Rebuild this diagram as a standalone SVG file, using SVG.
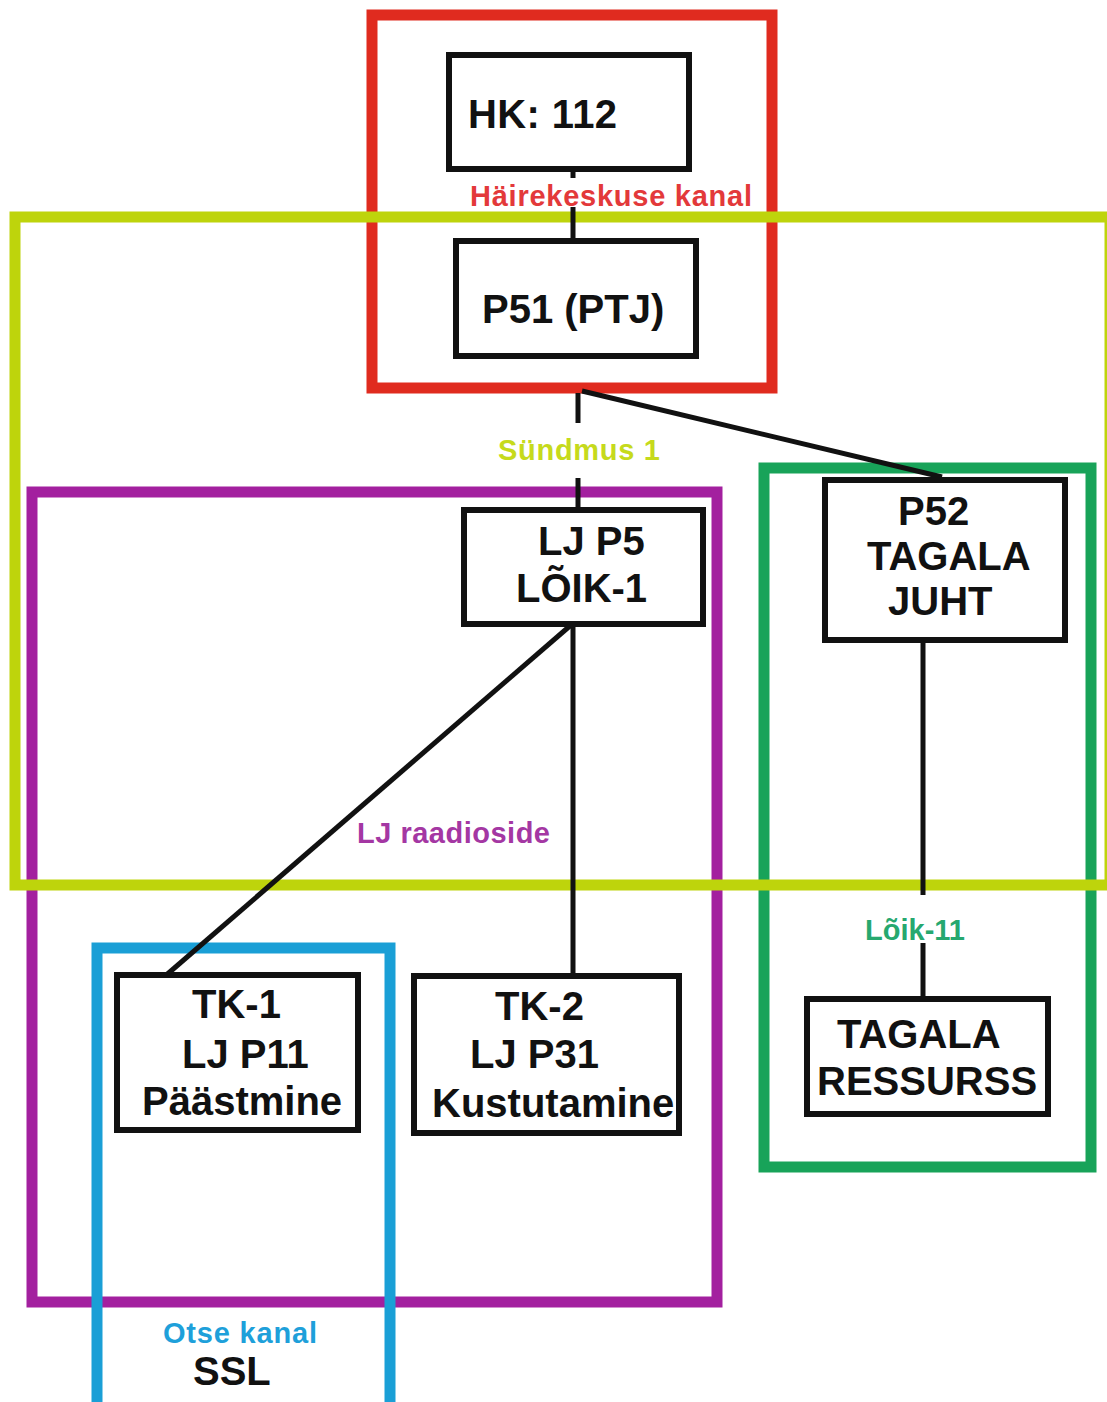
<svg xmlns="http://www.w3.org/2000/svg" width="1107" height="1402" viewBox="0 0 1107 1402">
  <style>
    .zone { fill: none; stroke-width: 11; }
    .box { fill: #ffffff; stroke: #111111; stroke-width: 6; }
    .wire { stroke: #111111; stroke-width: 5; fill: none; }
    .lbl { font-family: "Liberation Sans", Arial, sans-serif; font-weight: bold; font-size: 40px; fill: #111111; }
    .zlbl { font-family: "Liberation Sans", Arial, sans-serif; font-weight: bold; font-size: 29px; }
  </style>
  <rect width="1107" height="1402" fill="#ffffff"/>

  <!-- channel zones -->
  <g id="zones">
    <rect id="zone-lj" class="zone" x="32" y="492" width="685" height="810" stroke="#a3209f"/>
    <rect id="zone-otse" class="zone" x="97" y="948" width="293" height="470" stroke="#1a9fd6"/>
    <rect id="zone-loik11" class="zone" x="764" y="468" width="327" height="699" stroke="#18a359"/>
    <rect id="zone-hk" class="zone" x="372" y="15" width="400" height="373" stroke="#e02b1f"/>
    <rect id="zone-sundmus" class="zone" x="15" y="217" width="1095" height="668" stroke="#bed40c"/>
  </g>

  <!-- zone labels -->
  <g id="zone-labels">
    <text class="zlbl" x="470" y="206" fill="#e3393a" textLength="282">Häirekeskuse kanal</text>
    <text class="zlbl" x="498" y="460" fill="#c6da1c" textLength="162">Sündmus 1</text>
    <text class="zlbl" x="357" y="843" fill="#a437a3" textLength="193">LJ raadioside</text>
    <text class="zlbl" x="865" y="940" fill="#26a86f" textLength="100">Lõik-11</text>
    <text class="zlbl" x="163" y="1343" fill="#1ea0da" textLength="154">Otse kanal</text>
    <text class="lbl" x="193" y="1385">SSL</text>
  </g>

  <!-- connectors -->
  <g id="connectors">
    <line class="wire" x1="573" y1="172" x2="573" y2="178"/>
    <line class="wire" x1="573" y1="207" x2="573" y2="242"/>
    <line class="wire" x1="578" y1="393" x2="578" y2="423"/>
    <line class="wire" x1="578" y1="478" x2="578" y2="510"/>
    <line class="wire" x1="582" y1="391" x2="942" y2="477"/>
    <line class="wire" x1="571" y1="625" x2="164" y2="977"/>
    <line class="wire" x1="573" y1="625" x2="573" y2="976"/>
    <line class="wire" x1="923" y1="642" x2="923" y2="895"/>
    <line class="wire" x1="923" y1="943" x2="923" y2="999"/>
  </g>

  <!-- nodes -->
  <g id="node-hk112">
    <rect class="box" x="449" y="55" width="240" height="114"/>
    <text class="lbl" x="468" y="128" textLength="149">HK: 112</text>
  </g>
  <g id="node-p51">
    <rect class="box" x="456" y="241" width="240" height="115"/>
    <text class="lbl" x="482" y="323">P51 (PTJ)</text>
  </g>
  <g id="node-ljp5">
    <rect class="box" x="464" y="510" width="239" height="114"/>
    <text class="lbl" x="538" y="555">LJ P5</text>
    <text class="lbl" x="516" y="602">LÕIK-1</text>
  </g>
  <g id="node-p52">
    <rect class="box" x="825" y="480" width="240" height="160"/>
    <text class="lbl" x="898" y="525">P52</text>
    <text class="lbl" x="867" y="570">TAGALA</text>
    <text class="lbl" x="888" y="615">JUHT</text>
  </g>
  <g id="node-tk1">
    <rect class="box" x="117" y="975" width="241" height="155"/>
    <text class="lbl" x="192" y="1018">TK-1</text>
    <text class="lbl" x="182" y="1068">LJ P11</text>
    <text class="lbl" x="142" y="1115">Päästmine</text>
  </g>
  <g id="node-tk2">
    <rect class="box" x="414" y="976" width="265" height="157"/>
    <text class="lbl" x="495" y="1020">TK-2</text>
    <text class="lbl" x="470" y="1068">LJ P31</text>
    <text class="lbl" x="432" y="1117">Kustutamine</text>
  </g>
  <g id="node-ressurss">
    <rect class="box" x="807" y="999" width="241" height="115"/>
    <text class="lbl" x="837" y="1048">TAGALA</text>
    <text class="lbl" x="817" y="1095">RESSURSS</text>
  </g>
</svg>
